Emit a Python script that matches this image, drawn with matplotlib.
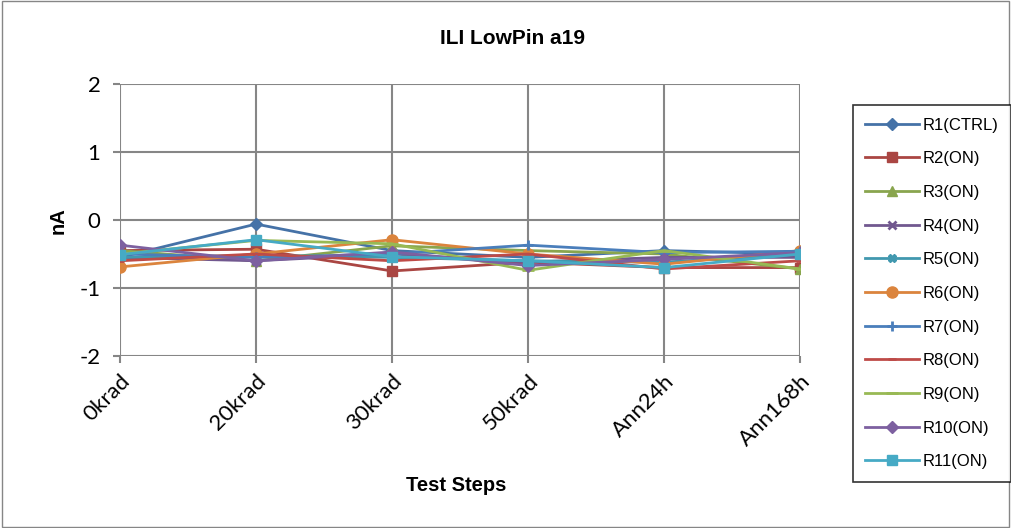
import matplotlib.pyplot as plt
import numpy as np

plt.rcParams["font.family"] = ["Liberation Sans", "DejaVu Sans"]

steps = ["0krad", "20krad", "30krad", "50krad", "Ann24h", "Ann168h"]
names = ["R1(CTRL)", "R2(ON)", "R3(ON)", "R4(ON)", "R5(ON)", "R6(ON)",
         "R7(ON)", "R8(ON)", "R9(ON)", "R10(ON)", "R11(ON)"]

r1 = [-0.55, -0.06, -0.45, -0.55, -0.45, -0.50]
r2 = [-0.45, -0.43, -0.75, -0.62, -0.70, -0.70]
r3 = [-0.45, -0.60, -0.38, -0.45, -0.50, -0.72]
r4 = [-0.55, -0.60, -0.50, -0.62, -0.55, -0.55]
r5 = [-0.55, -0.52, -0.55, -0.60, -0.62, -0.50]
r6 = [-0.69, -0.50, -0.29, -0.50, -0.65, -0.45]
r7 = [-0.50, -0.55, -0.50, -0.37, -0.48, -0.46]
r8 = [-0.60, -0.50, -0.60, -0.50, -0.72, -0.60]
r9 = [-0.50, -0.30, -0.35, -0.74, -0.45, -0.72]
r10 = [-0.37, -0.60, -0.47, -0.67, -0.58, -0.48]
r11 = [-0.51, -0.29, -0.54, -0.60, -0.70, -0.50]
series = [r1, r2, r3, r4, r5, r6, r7, r8, r9, r10, r11]

colors = ["#4572A7", "#AA4643", "#89A54E", "#71588F", "#4198AF", "#DB843D",
          "#4A7EBB", "#BE4B48", "#98B954", "#7D60A0", "#46AAC5"]
markers = ["D", "s", "^", "x", "X", "o", "+", "_", "_", "D", "s"]
msizes = [6, 7, 7, 6, 6, 8, 7, 6, 8, 6, 7]

fig = plt.figure(figsize=(10.11, 5.28), dpi=100)
fig.patches.append(plt.Rectangle((0.002, 0.002), 0.996, 0.996, transform=fig.transFigure,
                                 fill=False, edgecolor="#868686", linewidth=1))
ax = fig.add_axes([0.1187, 0.3258, 0.6726, 0.5151])

x = np.arange(len(steps))
for vals, name, c, m, ms in zip(series, names, colors, markers, msizes):
    ax.plot(x, vals, color=c, marker=m, markersize=ms, linewidth=2.0, label=name,
            markeredgewidth=2 if m in ("x", "+", "_") else 1)

ax.set_xlim(0, len(steps) - 1)
ax.set_ylim(-2, 2)
ax.set_yticks([-2, -1, 0, 1, 2])
ax.set_yticklabels(["-2", "-1", "0", "1", "2"], fontsize=16, family="Lato")
ax.set_xticks(x)
ax.set_xticklabels(steps, rotation=45, ha="right", rotation_mode="anchor", fontsize=16,
                   family="Lato")
ax.tick_params(axis="both", length=5, width=1.5, color="#868686", direction="out", pad=6)
ax.tick_params(axis="y", pad=9)
ax.grid(True, color="#868686", linewidth=1.5)
ax.set_axisbelow(True)
for s in ax.spines.values():
    s.set_visible(False)

fig.text(0.507, 0.928, "ILI LowPin a19", ha="center", va="center", fontsize=15, fontweight="bold")
fig.text(0.451, 0.081, "Test Steps", ha="center", va="center", fontsize=14.5, fontweight="bold")
fig.text(0.057, 0.583, "nA", ha="center", va="center", rotation=90, fontsize=14.5,
         fontweight="bold")

leg = fig.legend(loc="upper left", bbox_to_anchor=(0.8437, 0.801), borderaxespad=0,
                 fontsize=12, frameon=True, fancybox=False, edgecolor="black",
                 labelspacing=1.12, handlelength=3.2, borderpad=0.75, handletextpad=0.2)
leg.get_frame().set_linewidth(1.2)

fig.savefig("out.png", dpi=100)
